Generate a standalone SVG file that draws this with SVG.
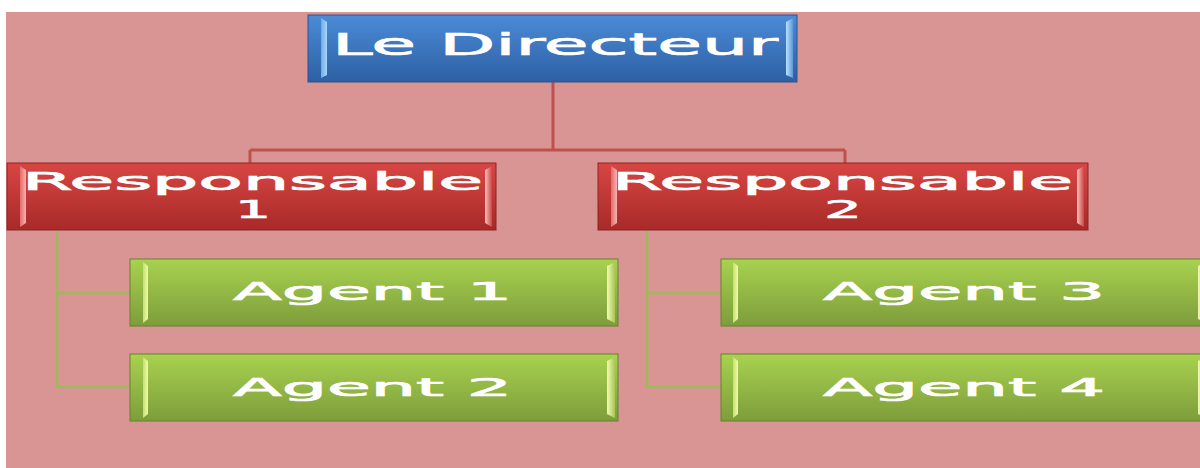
<svg xmlns="http://www.w3.org/2000/svg" width="1200" height="468" viewBox="0 0 1200 468">
  <defs>
    <linearGradient id="gBlue" x1="0" y1="0" x2="0" y2="1">
      <stop offset="0" stop-color="#4C8BD8"/>
      <stop offset="1" stop-color="#2D60A3"/>
    </linearGradient>
    <linearGradient id="gRed" x1="0" y1="0" x2="0" y2="1">
      <stop offset="0" stop-color="#D84643"/>
      <stop offset="1" stop-color="#A72A28"/>
    </linearGradient>
    <linearGradient id="gGreen" x1="0" y1="0" x2="0" y2="1">
      <stop offset="0" stop-color="#A8D24F"/>
      <stop offset="1" stop-color="#7D9D3B"/>
    </linearGradient>
    <linearGradient id="hBlueL" x1="0" y1="0" x2="1" y2="0">
      <stop offset="0" stop-color="#6FAAEB"/>
      <stop offset="1" stop-color="#A9D6FA"/>
    </linearGradient>
    <linearGradient id="hBlueR" x1="0" y1="0" x2="1" y2="0">
      <stop offset="0" stop-color="#B8E2FC"/>
      <stop offset="1" stop-color="#5E97DA"/>
    </linearGradient>
    <linearGradient id="hRedL" x1="0" y1="0" x2="1" y2="0">
      <stop offset="0" stop-color="#E46A67"/>
      <stop offset="1" stop-color="#F7B3B1"/>
    </linearGradient>
    <linearGradient id="hRedR" x1="0" y1="0" x2="1" y2="0">
      <stop offset="0" stop-color="#FAC0BE"/>
      <stop offset="1" stop-color="#C94743"/>
    </linearGradient>
    <linearGradient id="hGreenL" x1="0" y1="0" x2="1" y2="0">
      <stop offset="0" stop-color="#C3E26C"/>
      <stop offset="1" stop-color="#F1FAAE"/>
    </linearGradient>
    <linearGradient id="hGreenR" x1="0" y1="0" x2="1" y2="0">
      <stop offset="0" stop-color="#F3FBB4"/>
      <stop offset="1" stop-color="#A6C653"/>
    </linearGradient>
  </defs>
  <style>
    .lbl { font-family: "DejaVu Sans", Verdana, sans-serif; fill: #FFFFFF; stroke: #FFFFFF; stroke-width: 0.7; text-anchor: middle; }
    .big { font-size: 30px; }
    .mid { font-size: 24px; }
    .red-line { stroke: #C0504D; stroke-width: 3; fill: none; }
    .green-line { stroke: #9BBB59; stroke-width: 2.5; fill: none; }
    .blue-box { fill: url(#gBlue); stroke: #2A5590; stroke-width: 1; }
    .red-box { fill: url(#gRed); stroke: #8E2422; stroke-width: 1; }
    .green-box { fill: url(#gGreen); stroke: #66822F; stroke-width: 1; }
  </style>

  <!-- backdrop -->
  <rect x="0" y="0" width="1200" height="468" fill="#FFFFFF"/>
  <rect x="6" y="12" width="1194" height="456" fill="#D99594"/>

  <!-- connectors -->
  <g id="connectors">
    <path class="red-line" d="M553 82 V150 M250 150 H845 M250 150 V163 M845 150 V163"/>
    <path class="green-line" d="M57 230 V387 M57 293 H130 M57 387 H130"/>
    <path class="green-line" d="M647 230 V387 M647 293 H721 M647 387 H721"/>
  </g>

  <!-- top node -->
  <g id="directeur">
    <rect class="blue-box" x="308" y="15" width="489" height="67"/>
    <polygon points="321,18 327,22 327,75 321,78" fill="url(#hBlueL)"/>
    <polygon points="793,18 786,22 786,75 793,78" fill="url(#hBlueR)"/>
    <text class="lbl big" x="555" y="55" textLength="446" lengthAdjust="spacingAndGlyphs">Le Directeur</text>
  </g>

  <!-- second level -->
  <g id="responsable1">
    <rect class="red-box" x="7" y="163" width="489" height="67"/>
    <polygon points="20,166 26,170 26,223 20,227" fill="url(#hRedL)"/>
    <polygon points="492,166 485,170 485,223 492,227" fill="url(#hRedR)"/>
    <text class="lbl mid" x="252.5" y="190" textLength="461" lengthAdjust="spacingAndGlyphs">Responsable</text>
    <text class="lbl mid" x="253" y="218" textLength="36" lengthAdjust="spacingAndGlyphs">1</text>
  </g>

  <g id="responsable2">
    <rect class="red-box" x="598" y="163" width="490" height="67"/>
    <polygon points="611,166 617,170 617,223 611,227" fill="url(#hRedL)"/>
    <polygon points="1084,166 1077,170 1077,223 1084,227" fill="url(#hRedR)"/>
    <text class="lbl mid" x="842.5" y="190" textLength="461" lengthAdjust="spacingAndGlyphs">Responsable</text>
    <text class="lbl mid" x="843" y="218" textLength="38" lengthAdjust="spacingAndGlyphs">2</text>
  </g>

  <!-- third level -->
  <g id="agent1">
    <rect class="green-box" x="130" y="259" width="488" height="67"/>
    <polygon points="143,262 148,266 148,319 143,323" fill="url(#hGreenL)"/>
    <polygon points="615,262 607,266 607,319 615,323" fill="url(#hGreenR)"/>
    <text class="lbl mid" x="372.5" y="300" textLength="279" lengthAdjust="spacingAndGlyphs">Agent 1</text>
  </g>

  <g id="agent2">
    <rect class="green-box" x="130" y="354" width="488" height="67"/>
    <polygon points="143,357 148,361 148,414 143,418" fill="url(#hGreenL)"/>
    <polygon points="615,357 607,361 607,414 615,418" fill="url(#hGreenR)"/>
    <text class="lbl mid" x="372.5" y="396" textLength="279" lengthAdjust="spacingAndGlyphs">Agent 2</text>
  </g>

  <g id="agent3">
    <rect class="green-box" x="721" y="259" width="488" height="67"/>
    <polygon points="733,262 738,266 738,319 733,323" fill="url(#hGreenL)"/>
    <polygon points="1206,262 1198,266 1198,319 1206,323" fill="url(#hGreenR)"/>
    <text class="lbl mid" x="964" y="300" textLength="282" lengthAdjust="spacingAndGlyphs">Agent 3</text>
  </g>

  <g id="agent4">
    <rect class="green-box" x="721" y="354" width="488" height="67"/>
    <polygon points="733,357 738,361 738,414 733,418" fill="url(#hGreenL)"/>
    <polygon points="1206,357 1198,361 1198,414 1206,418" fill="url(#hGreenR)"/>
    <text class="lbl mid" x="964" y="396" textLength="282" lengthAdjust="spacingAndGlyphs">Agent 4</text>
  </g>
</svg>
